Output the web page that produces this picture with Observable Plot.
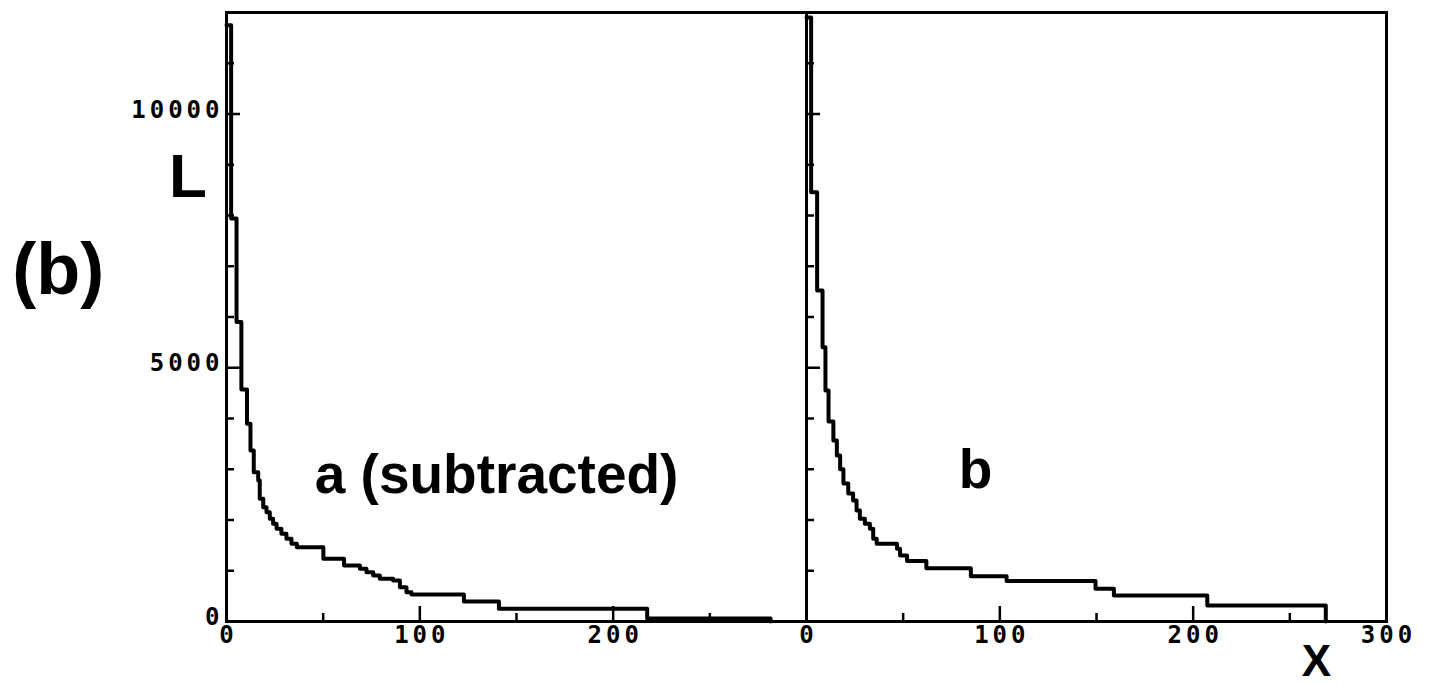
<!DOCTYPE html>
<html>
<head>
<meta charset="utf-8">
<script src="https://cdn.jsdelivr.net/npm/d3@7"></script>
<script src="https://cdn.jsdelivr.net/npm/@observablehq/plot@0.6"></script>
<style>
  html, body { margin: 0; padding: 0; background: #fff; }
  g[font-family="DejaVu Sans Mono"] { letter-spacing: 4px; }
</style>
</head>
<body>
<div id="chart"></div>
<script>
// Panels
const panels = ["a", "b"];

// Panel a (subtracted): step positions X and values L
const aX = [0, 2.4, 5.2, 7.7, 10.6, 12.4, 14.1, 16.4, 17.2, 19.0, 20.7, 22.4, 24.1, 25.9, 28.4, 31.0, 33.6, 36.4, 50.1, 60.8, 69.0, 72.4, 75.9, 79.3, 86.2, 89.7, 93.1, 95.7, 122.8, 140.9, 217.6, 281.4];
const aL = [11750, 7940, 5900, 4570, 3895, 3370, 2942, 2778, 2418, 2252, 2154, 2023, 1925, 1826, 1728, 1629, 1531, 1464, 1235, 1103, 1038, 972, 906, 840, 808, 676, 577, 530, 394, 250, 60, 0];

// Panel b
const bX = [0, 2.4, 5.5, 8.3, 9.8, 11.4, 13.9, 15.7, 17.4, 19.1, 21.6, 24.1, 25.9, 27.6, 30.2, 32.8, 34.5, 36.3, 46.8, 48.4, 52.0, 62.0, 85.0, 103.5, 149.5, 159.0, 207.3, 268.6];
const bL = [11900, 8460, 6520, 5405, 4552, 3940, 3567, 3271, 3000, 2720, 2522, 2384, 2187, 2023, 1925, 1826, 1629, 1531, 1432, 1300, 1190, 1050, 890, 800, 644, 512, 315, 0];

// Ticks
const yMajorTicks = [0, 5000, 10000];
const yMinorTicks = [1000, 2000, 3000, 4000, 6000, 7000, 8000, 9000, 11000];
const xMajorTicks = [100, 200];
const xMinorTicks = [50, 150, 250];
const yTickLabels = ["0", "5000", "10000"];
const xTicksA = [0, 100, 200];
const xTicksB = [0, 100, 200, 300];

// Annotations
const annoText = ["a (subtracted)", "b"];
const annoPanel = ["a", "b"];
const annoX = [139.7, 87.4];
const annoY = [2877, 2975];

const curveRows = [
  ...aX.map((x, i) => ({panel: "a", x, L: aL[i]})),
  ...bX.map((x, i) => ({panel: "b", x, L: bL[i]}))
];
const yLabelRows = yMajorTicks.map((v, i) => ({panel: "a", v, t: yTickLabels[i]}));
const xLabelRows = [
  ...xTicksA.map(v => ({panel: "a", v})),
  ...xTicksB.map(v => ({panel: "b", v}))
];
const annoRows = annoText.map((t, i) => ({panel: annoPanel[i], x: annoX[i], y: annoY[i], t}));

const monoFont = "DejaVu Sans Mono";
const sansFont = "Liberation Sans, Arial, sans-serif";

const chart = Plot.plot({
  width: 1439,
  height: 686,
  marginLeft: 226,
  marginRight: 53,
  marginTop: 12,
  marginBottom: 65,
  style: {background: "#fff", color: "#000", overflow: "visible"},
  fx: {domain: panels, padding: 0, axis: null, label: null},
  x: {domain: [0, 300], axis: null},
  y: {domain: [0, 12000], axis: null},
  marks: [
    Plot.frame({stroke: "black", strokeWidth: 3}),
    Plot.tickY(yMinorTicks, {y: d => d, insetRight: 572, stroke: "black", strokeWidth: 2.5}),
    Plot.tickY(yMajorTicks, {y: d => d, insetRight: 566, stroke: "black", strokeWidth: 2.5}),
    Plot.tickX(xMinorTicks, {x: d => d, insetTop: 601, stroke: "black", strokeWidth: 2.5}),
    Plot.tickX(xMajorTicks, {x: d => d, insetTop: 594, stroke: "black", strokeWidth: 2.5}),
    Plot.line(curveRows, {x: "x", y: "L", fx: "panel", z: "panel", curve: "step-after", stroke: "black", strokeWidth: 4}),
    Plot.text(yLabelRows, {fx: "panel", y: "v", text: "t", frameAnchor: "left", dx: -3, dy: -4, textAnchor: "end",
      fontFamily: monoFont, fontWeight: "bold", fontSize: 24, fill: "black"}),
    Plot.text(xLabelRows, {fx: "panel", x: "v", text: d => String(d.v), frameAnchor: "bottom", dx: 2, dy: 21,
      fontFamily: monoFont, fontWeight: "bold", fontSize: 24, fill: "black"}),
    Plot.text(annoRows, {fx: "panel", x: "x", y: "y", text: "t", fontFamily: sansFont, fontWeight: "bold", fontSize: 55, fill: "black"}),
    Plot.text([{panel: "a", x: -87, y: 6900, t: "(b)"}], {fx: "panel", x: "x", y: "y", text: "t", fontFamily: sansFont, fontWeight: "bold", fontSize: 72, fill: "black"}),
    Plot.text([{panel: "a", x: -20, y: 8750, t: "L"}], {fx: "panel", x: "x", y: "y", text: "t", fontFamily: sansFont, fontWeight: "bold", fontSize: 62, fill: "black"}),
    Plot.text([{panel: "b", x: 263.8, y: -800, t: "X"}], {fx: "panel", x: "x", y: "y", text: "t", fontFamily: sansFont, fontWeight: "bold", fontSize: 44, fill: "black"})
  ]
});
document.getElementById("chart").appendChild(chart);
</script>
</body>
</html>
